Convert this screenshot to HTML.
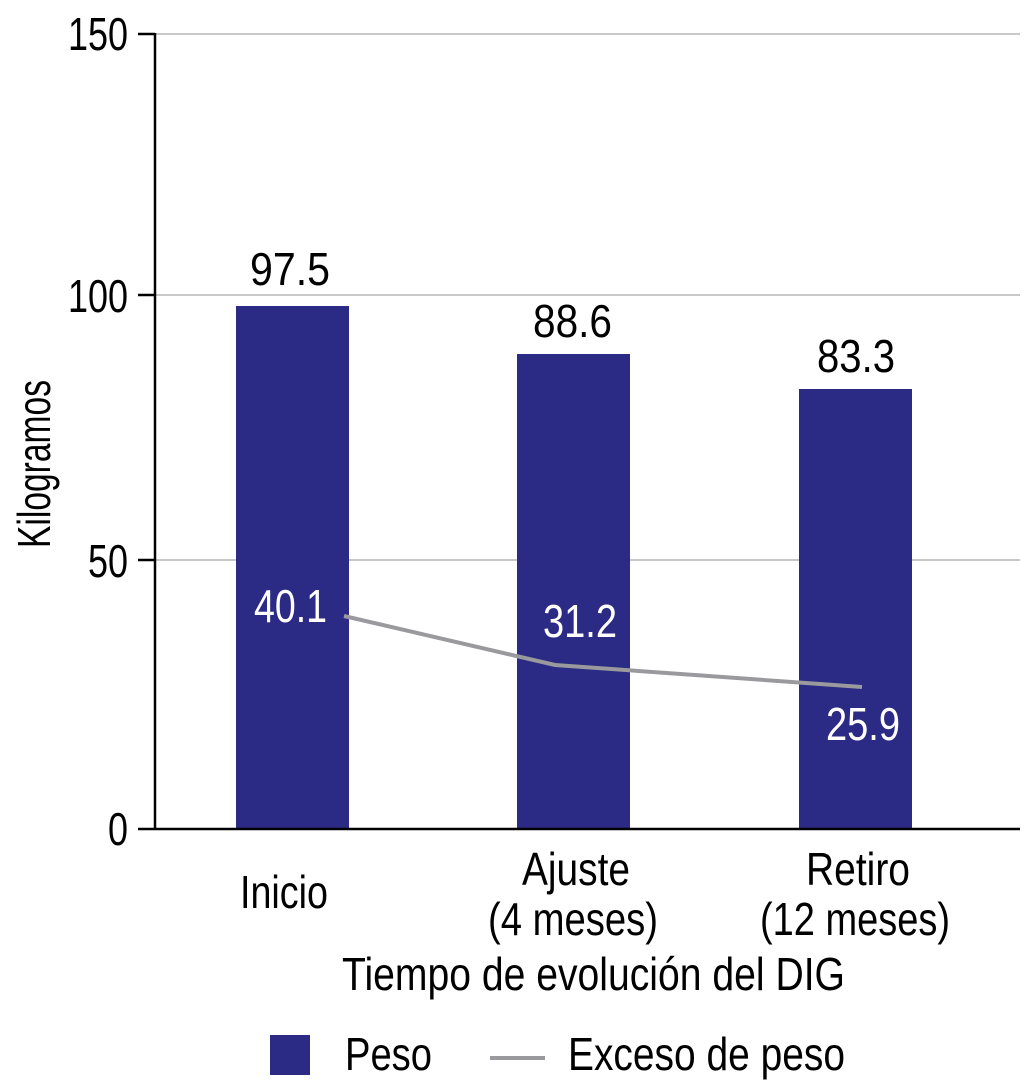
<!DOCTYPE html>
<html><head><meta charset="utf-8"><style>
html,body{margin:0;padding:0;background:#fff;}
svg{display:block;}
text{font-family:"Liberation Sans",sans-serif;fill:#000;}
</style></head><body>
<svg width="1024" height="1090" viewBox="0 0 1024 1090" xmlns="http://www.w3.org/2000/svg">
<g stroke="#c8c8c8" stroke-width="2">
<line x1="155" y1="34" x2="1020" y2="34"/>
<line x1="155" y1="295" x2="1020" y2="295"/>
<line x1="155" y1="560" x2="1020" y2="560"/>
</g>
<g fill="#2b2a84">
<rect x="236" y="306" width="113" height="523"/>
<rect x="517" y="354" width="113" height="475"/>
<rect x="799" y="389" width="113" height="440"/>
</g>
<polyline points="344,616 555,665 862,687" fill="none" stroke="#9a9a9e" stroke-width="4"/>
<g stroke="#000" stroke-width="2.5">
<line x1="155" y1="33" x2="155" y2="830"/>
<line x1="138" y1="829" x2="1020" y2="829"/>
<line x1="138" y1="34" x2="155" y2="34"/>
<line x1="138" y1="295" x2="155" y2="295"/>
<line x1="138" y1="560" x2="155" y2="560"/>
</g>
<g font-size="46">
<text x="68" y="50" textLength="60" lengthAdjust="spacingAndGlyphs">150</text>
<text x="68" y="312" textLength="60" lengthAdjust="spacingAndGlyphs">100</text>
<text x="88" y="577" textLength="40" lengthAdjust="spacingAndGlyphs">50</text>
<text x="108" y="845" textLength="20" lengthAdjust="spacingAndGlyphs">0</text>
<text transform="translate(50,548) rotate(-90)" textLength="168" lengthAdjust="spacingAndGlyphs">Kilogramos</text>
<text x="250" y="285" textLength="80" lengthAdjust="spacingAndGlyphs">97.5</text>
<text x="533" y="337" textLength="79" lengthAdjust="spacingAndGlyphs">88.6</text>
<text x="817" y="372" textLength="78" lengthAdjust="spacingAndGlyphs">83.3</text>
<text x="254" y="622" textLength="73" lengthAdjust="spacingAndGlyphs" style="fill:#fff">40.1</text>
<text x="543" y="637" textLength="74" lengthAdjust="spacingAndGlyphs" style="fill:#fff">31.2</text>
<text x="826" y="740" textLength="74" lengthAdjust="spacingAndGlyphs" style="fill:#fff">25.9</text>
<text x="240" y="908" textLength="88" lengthAdjust="spacingAndGlyphs">Inicio</text>
<text x="522" y="885" textLength="108" lengthAdjust="spacingAndGlyphs">Ajuste</text>
<text x="488" y="935" textLength="170" lengthAdjust="spacingAndGlyphs">(4 meses)</text>
<text x="806" y="885" textLength="104" lengthAdjust="spacingAndGlyphs">Retiro</text>
<text x="760" y="935" textLength="190" lengthAdjust="spacingAndGlyphs">(12 meses)</text>
<text x="342" y="990" textLength="503" lengthAdjust="spacingAndGlyphs">Tiempo de evolución del DIG</text>
<text x="345" y="1070" textLength="87" lengthAdjust="spacingAndGlyphs">Peso</text>
<text x="568" y="1070" textLength="277" lengthAdjust="spacingAndGlyphs">Exceso de peso</text>
</g>
<rect x="270" y="1035" width="40" height="40" fill="#2b2a84"/>
<line x1="490" y1="1058" x2="545" y2="1058" stroke="#9a9a9e" stroke-width="4"/>
</svg>
</body></html>
